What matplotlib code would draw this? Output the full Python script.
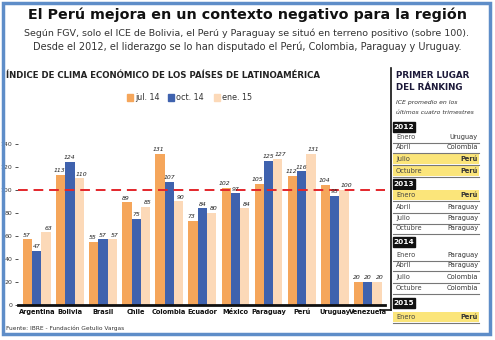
import matplotlib
matplotlib.use("Agg")
import matplotlib.pyplot as plt
import numpy as np
from matplotlib.patches import Rectangle
from matplotlib.lines import Line2D

countries = ["Argentina", "Bolivia", "Brasil", "Chile", "Colombia", "Ecuador",
             "México", "Paraguay", "Perú", "Uruguay", "Venezuela"]
jul14 = [57, 113, 55, 89, 131, 73, 102, 105, 112, 104, 20]
oct14 = [47, 124, 57, 75, 107, 84, 97, 125, 116, 95, 20]
ene15 = [63, 110, 57, 85, 90, 80, 84, 127, 131, 100, 20]
series_labels = ["jul. 14", "oct. 14", "ene. 15"]
yticks = [0, 20, 40, 60, 80, 100, 120, 140]

ranking_years = ["2012", "2013", "2014", "2015"]
ranking_months = [["Enero", "Abril", "Julio", "Octubre"],
                  ["Enero", "Abril", "Julio", "Octubre"],
                  ["Enero", "Abril", "Julio", "Octubre"],
                  ["Enero"]]
ranking_leaders = [["Uruguay", "Colombia", "Perú", "Perú"],
                   ["Perú", "Paraguay", "Paraguay", "Paraguay"],
                   ["Paraguay", "Paraguay", "Colombia", "Colombia"],
                   ["Perú"]]

colors = ["#F5A65B", "#3F62AE", "#FCD9B8"]
W, H = 495, 340
FAM = ["DejaVu Sans"]

fig = plt.figure(figsize=(W / 100, H / 100), dpi=100)
fig.patch.set_facecolor("white")

def fx(x):
    return x / W

def fy(y):
    return 1 - y / H

# frame
fig.patches.append(Rectangle((fx(3), fy(334)), fx(487), 331 / H, transform=fig.transFigure,
                             fill=False, edgecolor="#5E8DC8", linewidth=2.5))

fig.text(fx(247), fy(15), "El Perú mejora en un contexto negativo para la región",
         ha="center", va="center", fontsize=10.3, fontweight="bold", family=FAM, color="#111")
fig.text(fx(247), fy(33), "Según FGV, solo el ICE de Bolivia, el Perú y Paraguay se situó en terreno positivo (sobre 100).",
         ha="center", va="center", fontsize=6.8, family=FAM, color="#333")
fig.text(fx(247), fy(47), "Desde el 2012, el liderazgo se lo han disputado el Perú, Colombia, Paraguay y Uruguay.",
         ha="center", va="center", fontsize=7.0, family=FAM, color="#333")
fig.text(fx(6), fy(76), "ÍNDICE DE CLIMA ECONÓMICO DE LOS PAÍSES DE LATINOAMÉRICA",
         ha="left", va="center", fontsize=6.2, fontweight="bold", family=FAM, color="#222")
fig.text(fx(6), fy(328), "Fuente: IBRE - Fundación Getulio Vargas",
         ha="left", va="center", fontsize=4.2, family=FAM, color="#333")

# axes
ax = fig.add_axes([fx(18), fy(305), fx(385) - fx(18), 167 / H])
x = np.arange(len(countries))
bw = 0.28
label_shift = [-0.04, 0.0, 0.07]
for i, (vals, c) in enumerate(zip([jul14, oct14, ene15], colors)):
    pos = x + (i - 1) * bw
    ax.bar(pos, vals, width=bw, color=c, label=series_labels[i], zorder=2)
    for p, v in zip(pos, vals):
        ax.text(p + label_shift[i], v + 1.5, str(v), ha="center", va="bottom", fontsize=4.4,
                style="italic", family=FAM, color="#222", zorder=4)
ax.axhline(100, color="#E3262B", linestyle=(0, (5, 3)), linewidth=1.4, zorder=3)
ax.set_ylim(0, 145)
ax.set_xlim(-0.57, 10.52)
ax.set_yticks(yticks)
ax.set_yticklabels([str(t) for t in yticks], fontsize=4.5, family=FAM, color="#333")
ax.set_xticks(x)
ax.set_xticklabels(countries, fontsize=4.8, fontweight="bold", family=FAM, color="#111")
ax.tick_params(axis="x", length=0, pad=3)
ax.tick_params(axis="y", length=2, width=0.6, pad=2, colors="#333")
for s in ["top", "right", "left"]:
    ax.spines[s].set_visible(False)
ax.spines["bottom"].set_linewidth(2)
ax.spines["bottom"].set_color("#111")
ax.set_facecolor("none")

# legend
leg_x = [127, 168, 214]
for lx, lab, c in zip(leg_x, series_labels, colors):
    fig.patches.append(Rectangle((fx(lx), fy(101)), 6 / W, 7 / H, transform=fig.transFigure,
                                 color=c))
    fig.text(fx(lx + 8), fy(97.5), lab, ha="left", va="center", fontsize=5.8, family=FAM, color="#333")

# right panel
fig.lines.append(Line2D([fx(391), fx(391)], [fy(68), fy(310)], transform=fig.transFigure,
                        color="#111", linewidth=1.2))
fig.lines.append(Line2D([fx(380), fx(391)], [fy(310), fy(310)], transform=fig.transFigure,
                        color="#111", linewidth=1.2))
fig.text(fx(396), fy(75), "PRIMER LUGAR", ha="left", va="center", fontsize=6.3,
         fontweight="bold", family=FAM, color="#1d1a3a")
fig.text(fx(396), fy(87), "DEL RÁNKING", ha="left", va="center", fontsize=6.3,
         fontweight="bold", family=FAM, color="#1d1a3a")
fig.text(fx(396), fy(102), "ICE promedio en los", ha="left", va="center", fontsize=4.4,
         style="italic", family=FAM, color="#333")
fig.text(fx(396), fy(113), "últimos cuatro trimestres", ha="left", va="center", fontsize=4.4,
         style="italic", family=FAM, color="#333")

year_y = [127, 184, 242, 303]
row_y = [[137, 147, 159, 171], [195, 207, 218, 228], [255, 265, 277, 288], [317]]
for yr, yy, months, leaders, rys in zip(ranking_years, year_y, ranking_months, ranking_leaders, row_y):
    fig.patches.append(Rectangle((fx(393), fy(yy + 5)), 22 / W, 10 / H, transform=fig.transFigure,
                                 facecolor="#111", edgecolor="#111"))
    fig.text(fx(404), fy(yy), yr, ha="center", va="center", fontsize=5.3,
             fontweight="bold", family=FAM, color="white")
    for m, l, ry in zip(months, leaders, rys):
        hi = (l == "Perú")
        if hi:
            fig.patches.append(Rectangle((fx(393), fy(ry + 5)), 86 / W, 10 / H,
                                         transform=fig.transFigure, facecolor="#FBE57A",
                                         edgecolor="none"))
        fig.lines.append(Line2D([fx(393), fx(479)], [fy(ry + 5.5), fy(ry + 5.5)],
                                transform=fig.transFigure, color="#777", linewidth=0.8))
        fig.text(fx(396), fy(ry), m, ha="left", va="center", fontsize=4.8, family=FAM, color="#444")
        fig.text(fx(478), fy(ry), l, ha="right", va="center", fontsize=4.8,
                 fontweight="bold" if hi else "normal", family=FAM, color="#333")

fig.savefig("out.png", dpi=100)
